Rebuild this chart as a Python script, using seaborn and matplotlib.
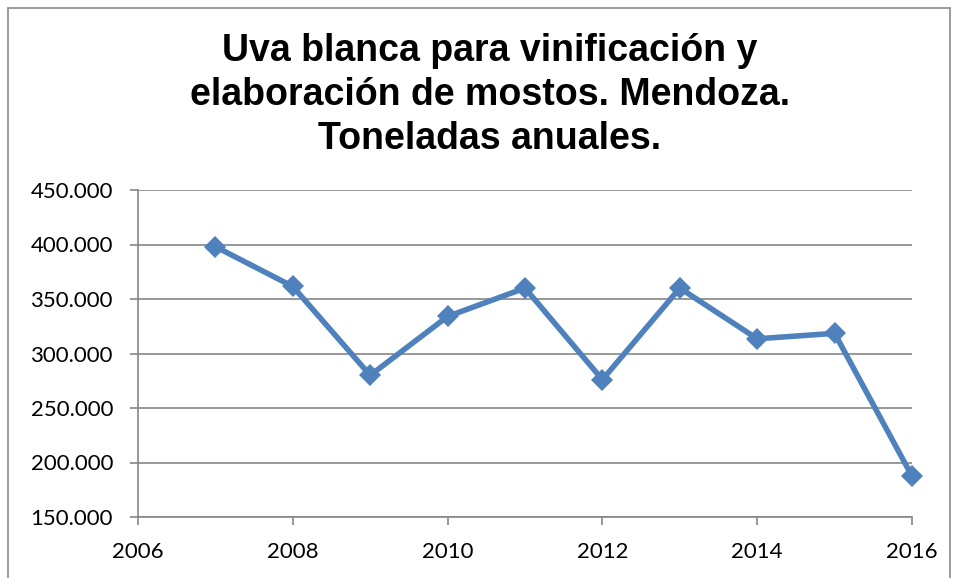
import matplotlib
matplotlib.use("Agg")
import matplotlib.pyplot as plt
import seaborn as sns
import pandas as pd
from matplotlib.ticker import FuncFormatter
from matplotlib.lines import Line2D

years = [2007, 2008, 2009, 2010, 2011, 2012, 2013, 2014, 2015, 2016]
toneladas = [398000, 361500, 280000, 334000, 360000, 276000, 360000, 313500, 318500, 187500]
title = "Uva blanca para vinificación y\nelaboración de mostos. Mendoza.\nToneladas anuales."

df = pd.DataFrame({"year": years, "t": toneladas})

sns.set_theme(style="white")
plt.rcParams["font.family"] = ["Lato", "DejaVu Sans"]

fig = plt.figure(figsize=(9.55, 5.78), dpi=100)
ax = fig.add_axes([138/955, 1-517/578, (912-138)/955, (517-190)/578])

sns.lineplot(data=df, x="year", y="t", ax=ax, color="#4F81BD", linewidth=4,
             marker="D", markersize=11, markeredgewidth=0, markerfacecolor="#4F81BD",
             clip_on=False)

ax.set_xlim(2006, 2016)
ax.set_ylim(150000, 450000)
ax.set_xticks(range(2006, 2017, 2))
ax.set_yticks(range(150000, 450001, 50000))
ax.yaxis.set_major_formatter(FuncFormatter(lambda v, p: f"{int(v):,}".replace(",", ".")))
ax.set_xlabel("")
ax.set_ylabel("")
ax.grid(axis="y", color="#868686", linewidth=1.2)
ax.set_axisbelow(True)
for s in ["top", "right"]:
    ax.spines[s].set_visible(False)
for s in ["left", "bottom"]:
    ax.spines[s].set_color("#868686")
    ax.spines[s].set_linewidth(1.2)
ax.tick_params(axis="both", direction="out", length=6, width=1.2, color="#868686",
               labelsize=16, labelcolor="black", pad=12, left=True, bottom=True)

fig.text(490/955, 1-95/578, title, ha="center", va="center", fontsize=27,
         fontweight="bold", color="black", family=["Liberation Sans", "DejaVu Sans"],
         linespacing=1.3)

# outer chart border
bc = "#8c8c8c"
fig.add_artist(Line2D([8/955, 8/955], [0, 1-8/578], transform=fig.transFigure, color=bc, lw=1.2))
fig.add_artist(Line2D([8/955, 950/955], [1-8/578, 1-8/578], transform=fig.transFigure, color=bc, lw=1.2))
fig.add_artist(Line2D([950/955, 950/955], [0, 1-8/578], transform=fig.transFigure, color=bc, lw=1.2))

fig.savefig("out.png", dpi=100)
